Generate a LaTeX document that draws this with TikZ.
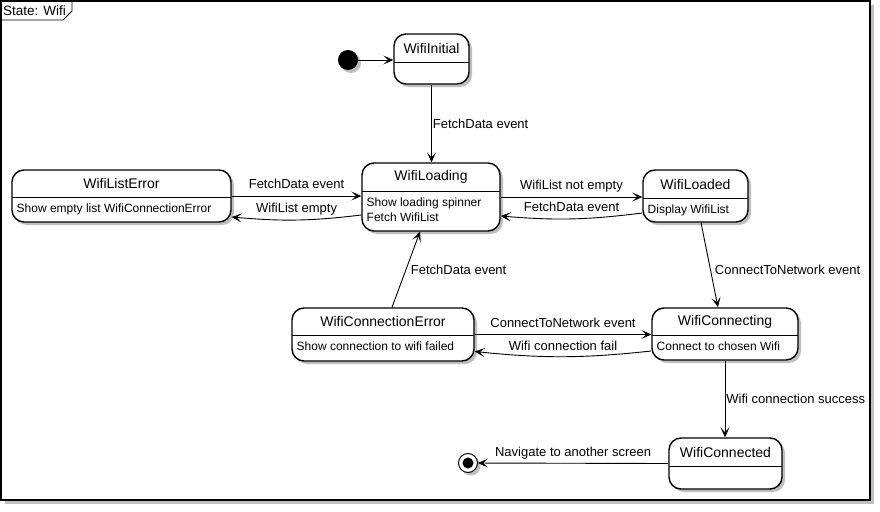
\documentclass[tikz,border=0pt]{standalone}
\usepackage{fontspec}
\setmainfont{Liberation Sans}
\usetikzlibrary{shadows,fit,arrows.meta,calc}
\tikzset{
  arr/.style={-{Stealth[length=10pt,width=9pt,inset=5pt]}, line width=0.9pt},
  shad/.style={drop shadow={shadow xshift=3pt, shadow yshift=-3pt, fill=black!45, opacity=0.55}},
  sbox/.style={draw, line width=1.4pt, rounded corners=12pt, fill=white, inner sep=0pt, shad},
  divline/.style={line width=1pt},
  ttl/.style={font=\fontsize{14}{16}\selectfont, inner sep=0pt},
  bdy/.style={font=\fontsize{12}{15}\selectfont, inner sep=0pt, anchor=north west, align=left},
  lbl/.style={font=\fontsize{13}{15}\selectfont, inner sep=1pt},
  abv/.style={lbl, midway, anchor=base, yshift=#1},
  abv/.default=8pt,
}
\newcommand\wstate[8]{%
  \node[sbox, fit={(#2,#3) (#4,#5)}] (#1) {};
  \draw[divline] (#2,#6) -- (#4,#6);
  \node[ttl] (#1-t) at ($(#2,#3)!0.5!(#4,#6)$) {#7};
  \node[bdy] (#1-b) at (#2+4.5,#6+7) {#8};
}
\begin{document}
\begin{tikzpicture}[x=1pt,y=-1pt]
\useasboundingbox (0,0) rectangle (880,511);
% frame
\draw[line width=1.4pt, fill=white, drop shadow={shadow xshift=4pt, shadow yshift=-4pt, fill=black!45, opacity=0.55}] (1,1) rectangle (870,500);
\draw[line width=0.8pt] (1,20) -- (63,20) -- (72,11) -- (72,1);
\node[anchor=west, font=\fontsize{13.5}{15}\selectfont, inner sep=0pt] (frametitle) at (3,10.5) {State: Wifi};
% start and end
\node[circle, fill=black, minimum size=20pt, inner sep=0pt, shad] (start) at (348,60) {};
\node[circle, draw, line width=1pt, fill=white, minimum size=19pt, inner sep=0pt, shad] (end) at (468,463) {};
\node[circle, fill=black, minimum size=11pt, inner sep=0pt] (endin) at (end) {};
% states
\wstate{winit}{394}{34}{469}{84}{63}{WifiInitial}{}
\wstate{wload}{362}{163}{500}{231}{191}{WifiLoading}{Show loading spinner\\Fetch WifiList}
\wstate{wlerr}{12}{170}{231}{222}{197}{WifiListError}{Show empty list WifiConnectionError}
\wstate{wloaded}{643}{170}{748}{222}{198}{WifiLoaded}{Display WifiList}
\wstate{wcing}{652}{308}{798}{360}{335}{WifiConnecting}{Connect to chosen Wifi}
\wstate{wcerr}{292}{308}{474}{361}{335}{WifiConnectionError}{Show connection to wifi failed}
\wstate{wced}{669}{438}{782}{489}{466}{WifiConnected}{}
% transitions
\draw[arr] (start.east) -- (winit.west |- start.east);
\draw[arr] (winit.south) -- (winit.south |- wload.north)
  node[lbl, midway, anchor=west] {FetchData event};
\draw[arr] (wlerr.east) -- (wlerr.east -| wload.west)
  node[abv] {FetchData event};
\draw[arr] ([yshift=-18pt]wload.west) to[bend left=6]
  node[abv=7pt] {WifiList empty} ([yshift=-21pt]wlerr.east);
\draw[arr] (wload.east) -- (wload.east -| wloaded.west)
  node[abv] {WifiList not empty};
\draw[arr] ([yshift=-17pt]wloaded.west) to[bend left=6]
  node[abv=7pt] {FetchData event} ([yshift=-19pt]wload.east);
\draw[arr] ([xshift=5.5pt]wloaded.south) -- ([xshift=-7pt]wcing.north)
  node[lbl, pos=0.56, anchor=west, xshift=3pt] {ConnectToNetwork event};
\draw[arr] ([xshift=9pt]wcerr.north) -- ([xshift=-11pt]wload.south)
  node[lbl, midway, anchor=west, xshift=3.5pt] {FetchData event};
\draw[arr] (wcerr.east) -- (wcerr.east -| wcing.west)
  node[abv=7pt] {ConnectToNetwork event};
\draw[arr] ([yshift=-17pt]wcing.west) to[bend left=6]
  node[abv=6pt] {Wifi connection fail} ([yshift=-17pt]wcerr.east);
\draw[arr] (wcing.south) -- (wcing.south |- wced.north)
  node[lbl, midway, anchor=west] {Wifi connection success};
\draw[arr] (wced.west) -- (end)
  node[abv=7pt] {Navigate to another screen};
\end{tikzpicture}
\end{document}
